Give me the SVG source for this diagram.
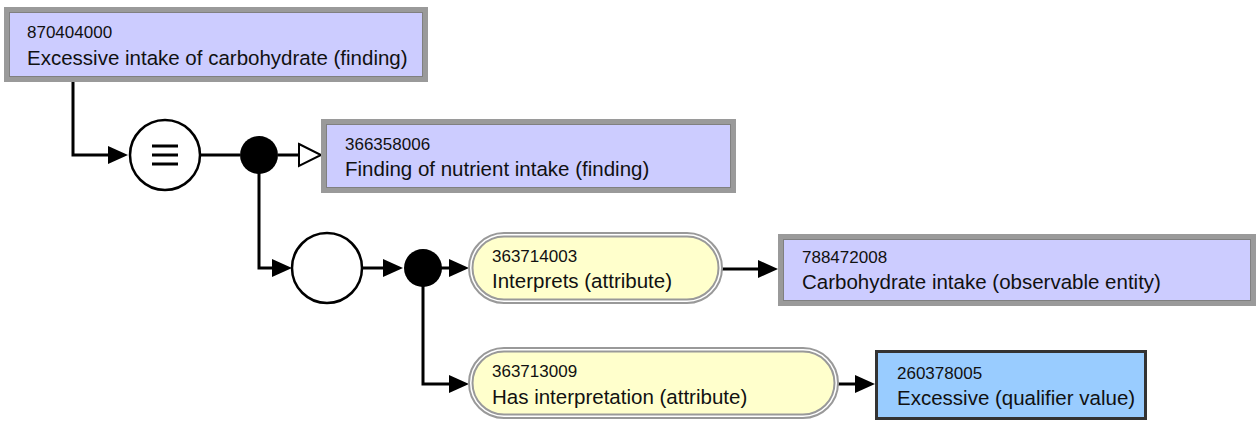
<svg xmlns="http://www.w3.org/2000/svg" width="1258" height="421" viewBox="0 0 1258 421">
<style>
.code{font-family:"Liberation Sans",Arial,sans-serif;font-size:17px;fill:#111}
.lbl{font-family:"Liberation Sans",Arial,sans-serif;font-size:20.5px;fill:#111}
.concept{fill:#CCCCFF;stroke:#9a9a9a;stroke-width:5}
.inner{fill:none;stroke:#808080;stroke-width:1}
.value{fill:#99CCFF;stroke:#333;stroke-width:3}
.pillo{fill:#fff;stroke:#999;stroke-width:2}
.pilli{fill:#FFFFCC;stroke:#999;stroke-width:2}
.conn{fill:none;stroke:#000;stroke-width:3}
.ring{fill:#fff;stroke:#000;stroke-width:2.5}
</style>
<defs>
<marker id="arr" viewBox="0 0 20 20" refX="10" refY="10" markerWidth="20" markerHeight="20" markerUnits="userSpaceOnUse" orient="auto">
<path d="M0,1 L20,10 L0,19 z" fill="#000"/>
</marker>
</defs>
<g id="connectors">
<path class="conn" d="M73,82 V155 H118" marker-end="url(#arr)"/>
<path class="conn" d="M200,155 H240"/>
<path class="conn" d="M278,155 H299"/>
<polygon points="299,144 321,155 299,166" fill="#fff" stroke="#000" stroke-width="2"/>
<path class="conn" d="M259,173 V268 H282" marker-end="url(#arr)"/>
<path class="conn" d="M362,268 H393" marker-end="url(#arr)"/>
<path class="conn" d="M441,268 H459" marker-end="url(#arr)"/>
<path class="conn" d="M722,269 H768" marker-end="url(#arr)"/>
<path class="conn" d="M423,286 V384 H459" marker-end="url(#arr)"/>
<path class="conn" d="M838,384 H865" marker-end="url(#arr)"/>
</g>
<g id="n870404000">
<rect class="concept" x="6.5" y="9.5" width="419" height="70"/>
<rect class="inner" x="9.5" y="12.5" width="413" height="64"/>
<text class="code" x="27" y="38">870404000</text>
<text class="lbl" x="27" y="65">Excessive intake of carbohydrate (finding)</text>
</g>
<g id="defined">
<circle class="ring" cx="165" cy="155" r="35"/>
<path d="M152,146 H178 M152,155 H178 M152,164 H178" stroke="#000" stroke-width="3"/>
</g>
<g id="conj1">
<circle cx="259" cy="155" r="19" fill="#000"/>
</g>
<g id="n366358006">
<rect class="concept" x="323.5" y="121.5" width="410" height="69"/>
<rect class="inner" x="326.5" y="124.5" width="404" height="63"/>
<text class="code" x="345" y="150">366358006</text>
<text class="lbl" x="345" y="176">Finding of nutrient intake (finding)</text>
</g>
<g id="group1">
<circle class="ring" cx="327" cy="268" r="35"/>
</g>
<g id="conj2">
<circle cx="423" cy="268" r="19" fill="#000"/>
</g>
<g id="n363714003">
<rect class="pillo" x="469" y="233" width="253" height="70" rx="35"/>
<rect class="pilli" x="472.5" y="236.5" width="246" height="63" rx="31.5"/>
<text class="code" x="492" y="262">363714003</text>
<text class="lbl" x="492" y="288">Interprets (attribute)</text>
</g>
<g id="n788472008">
<rect class="concept" x="780.5" y="236.5" width="473" height="67"/>
<rect class="inner" x="783.5" y="239.5" width="467" height="61"/>
<text class="code" x="802" y="263">788472008</text>
<text class="lbl" x="802" y="289">Carbohydrate intake (observable entity)</text>
</g>
<g id="n363713009">
<rect class="pillo" x="469" y="348" width="369" height="70" rx="35"/>
<rect class="pilli" x="472.5" y="351.5" width="362" height="63" rx="31.5"/>
<text class="code" x="492" y="377">363713009</text>
<text class="lbl" x="492" y="404">Has interpretation (attribute)</text>
</g>
<g id="n260378005">
<rect class="value" x="876.5" y="351.5" width="269" height="67"/>
<text class="code" x="897" y="379">260378005</text>
<text class="lbl" x="897" y="405">Excessive (qualifier value)</text>
</g>
</svg>
